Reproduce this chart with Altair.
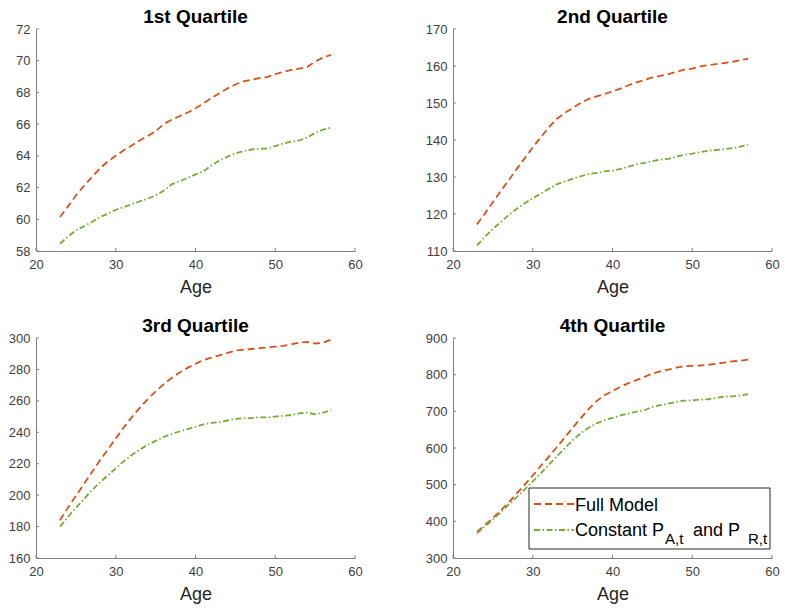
import altair as alt
import pandas as pd

# ---------------- data ----------------
ages = list(range(23, 58))

q1_full = [60.14, 60.8, 61.5, 62.1, 62.65, 63.2, 63.65, 64.0, 64.35, 64.65, 64.97, 65.25,
           65.55, 66.0, 66.28, 66.5, 66.72, 67.0, 67.3, 67.65, 67.95, 68.25, 68.5, 68.7,
           68.8, 68.9, 68.97, 69.15, 69.3, 69.42, 69.5, 69.6, 69.95, 70.2, 70.37]
q1_const = [58.46, 58.9, 59.3, 59.55, 59.83, 60.14, 60.35, 60.6, 60.77, 60.95, 61.13, 61.3,
            61.5, 61.8, 62.2, 62.4, 62.6, 62.83, 63.02, 63.4, 63.7, 63.95, 64.15, 64.3,
            64.4, 64.45, 64.45, 64.62, 64.78, 64.9, 64.97, 65.15, 65.45, 65.65, 65.78]

q2_full = [117.2, 120.1, 123.2, 126.2, 129.2, 132.2, 135.1, 138.0, 140.7, 143.4, 145.7, 147.3,
           148.6, 150.0, 151.1, 151.8, 152.4, 153.2, 153.9, 154.8, 155.6, 156.2, 156.9, 157.3,
           157.8, 158.4, 159.0, 159.3, 159.9, 160.2, 160.5, 160.8, 161.1, 161.6, 162.0]
q2_const = [111.5, 113.8, 116.0, 117.8, 119.8, 121.4, 122.9, 124.3, 125.5, 126.8, 128.0, 128.8,
            129.5, 130.2, 130.8, 131.1, 131.5, 131.7, 132.2, 132.8, 133.4, 133.8, 134.3, 134.7,
            134.9, 135.5, 136.0, 136.3, 136.7, 137.1, 137.3, 137.5, 137.8, 138.2, 138.7]

q3_full = [184, 192, 199.5, 207, 214.5, 222, 229, 236, 243, 249.5, 255.5, 261,
           266, 270.5, 274.5, 278, 281, 283.5, 286, 287.5, 289, 290.5, 292, 292.5,
           293, 293.5, 294, 294.5, 295, 296, 297, 297.5, 296.5, 297, 299]
q3_const = [180, 186, 192, 197.5, 203, 208, 212.5, 217, 221.5, 225.5, 229, 232,
            234.5, 237, 239, 240.5, 242, 243.5, 245, 246, 246.5, 247.5, 248.5, 249,
            249, 249.5, 249.5, 250, 250.5, 251, 252, 252.5, 251.5, 252.5, 254]

q4_full = [371, 390, 409, 430, 452, 476, 500, 525, 551, 576, 602, 628,
           655, 681, 706, 728, 744, 755, 767, 777, 785, 794, 803, 809,
           814, 819, 823, 824, 825, 827, 830, 833, 836, 838, 841]
q4_const = [367, 386, 405, 425, 446, 466, 487, 509, 531, 554, 577, 599,
            621, 640, 655, 667, 676, 682, 689, 694, 699, 703, 712, 717,
            721, 726, 729, 730, 732, 733, 737, 740, 741, 743, 747]

series_names = ["Full Model", "Constant P_A,t and P_R,t"]
titles = ["1st Quartile", "2nd Quartile", "3rd Quartile", "4th Quartile"]
x_domain = [20, 60]
x_ticks = [20, 30, 40, 50, 60]
y_domains = [[58, 72], [110, 170], [160, 300], [300, 900]]
y_ticks = [list(range(58, 73, 2)), list(range(110, 171, 10)),
           list(range(160, 301, 20)), list(range(300, 901, 100))]
legend_texts = ["Full Model", "Constant P", "A,t", "and P", "R,t"]

# ---------------- style ----------------
FONT = "Liberation Sans"
COLORS = ["#D95319", "#77AC30"]
DASHES = [[7, 4], [6, 2.5, 1.5, 2.5]]
AXIS_COLOR = "#808080"
LW = 1.8


def one_row():
    return alt.Data(values=[{"k": 0}])


def panel(i, full, const, w, h, legend=False):
    df = pd.DataFrame({
        "Age": ages * 2,
        "Value": full + const,
        "Series": [series_names[0]] * len(ages) + [series_names[1]] * len(ages),
    })
    xs = alt.Scale(domain=x_domain, nice=False, zero=False)
    ys = alt.Scale(domain=y_domains[i], nice=False, zero=False)
    xa = alt.Axis(values=x_ticks, title="Age", format="d", labelFlush=False)
    ya = alt.Axis(values=y_ticks[i], title=None, format="d")

    lines = alt.Chart(df).mark_line(strokeWidth=LW).encode(
        x=alt.X("Age:Q", scale=xs, axis=xa),
        y=alt.Y("Value:Q", scale=ys, axis=ya),
        color=alt.Color("Series:N", scale=alt.Scale(domain=series_names, range=COLORS), legend=None),
        strokeDash=alt.StrokeDash("Series:N", scale=alt.Scale(domain=series_names, range=DASHES),
                                  legend=None),
        order=alt.Order("Age:Q"),
    )

    xt = alt.Chart(pd.DataFrame({"Age": x_ticks})).mark_rule(
        color=AXIS_COLOR, strokeWidth=1).encode(
        x=alt.X("Age:Q", scale=xs, axis=xa),
        y=alt.value(h), y2=alt.value(h - 3))
    yt = alt.Chart(pd.DataFrame({"Value": y_ticks[i]})).mark_rule(
        color=AXIS_COLOR, strokeWidth=1).encode(
        y=alt.Y("Value:Q", scale=ys, axis=ya),
        x=alt.value(0), x2=alt.value(3))

    layers = [lines, xt, yt]

    if legend:
        box = alt.Chart(one_row()).mark_rect(
            fill="white", stroke="#262626", strokeWidth=1).encode(
            x=alt.value(76), x2=alt.value(317), y=alt.value(150), y2=alt.value(211))
        s1 = alt.Chart(one_row()).mark_rule(
            color=COLORS[0], strokeDash=DASHES[0], strokeWidth=LW).encode(
            x=alt.value(81), x2=alt.value(121), y=alt.value(166))
        s2 = alt.Chart(one_row()).mark_rule(
            color=COLORS[1], strokeDash=DASHES[1], strokeWidth=LW).encode(
            x=alt.value(81), x2=alt.value(121), y=alt.value(192))

        def txt(s, x, y, size):
            return alt.Chart(one_row()).mark_text(
                align="left", baseline="alphabetic", font=FONT, fontSize=size,
                color="#000000").encode(x=alt.value(x), y=alt.value(y), text=alt.value(s))
        t1 = txt(legend_texts[0], 122, 172.5, 18)
        t2 = txt(legend_texts[1], 122, 197.5, 18)
        t3 = txt(legend_texts[2], 212, 205.5, 15)
        t4 = txt(legend_texts[3], 240, 197.5, 18)
        t5 = txt(legend_texts[4], 295, 205.5, 15)
        layers += [box, s1, s2, t1, t2, t3, t4, t5]

    return alt.layer(*layers).properties(
        width=w, height=h,
        title=alt.TitleParams(titles[i], anchor="middle"))


p1 = panel(0, q1_full, q1_const, 319, 222)
p2 = panel(1, q2_full, q2_const, 319, 222)
p3 = panel(2, q3_full, q3_const, 319, 220)
p4 = panel(3, q4_full, q4_const, 319, 220, legend=True)

chart = alt.ConcatChart(
    concat=[p1, p2, p3, p4], columns=2,
    spacing=alt.RowColnumber(row=87, column=98), bounds="flush",
).properties(
    padding={"left": 0, "top": 0, "right": 0, "bottom": 1}
).configure_view(stroke=None).configure_axis(
    domainColor=AXIS_COLOR, domainWidth=1, ticks=False, grid=False,
    labelFont=FONT, labelFontSize=13, labelColor="#404040",
    titleFont=FONT, titleFontSize=18, titleFontWeight="normal", titleColor="#262626",
).configure_axisX(labelPadding=7, titlePadding=7).configure_axisY(labelPadding=6).configure_title(
    font=FONT, fontSize=19, fontWeight="bold", color="#000000", offset=-4)

chart.save("out.html", embed_options={"renderer": "svg", "actions": False})
